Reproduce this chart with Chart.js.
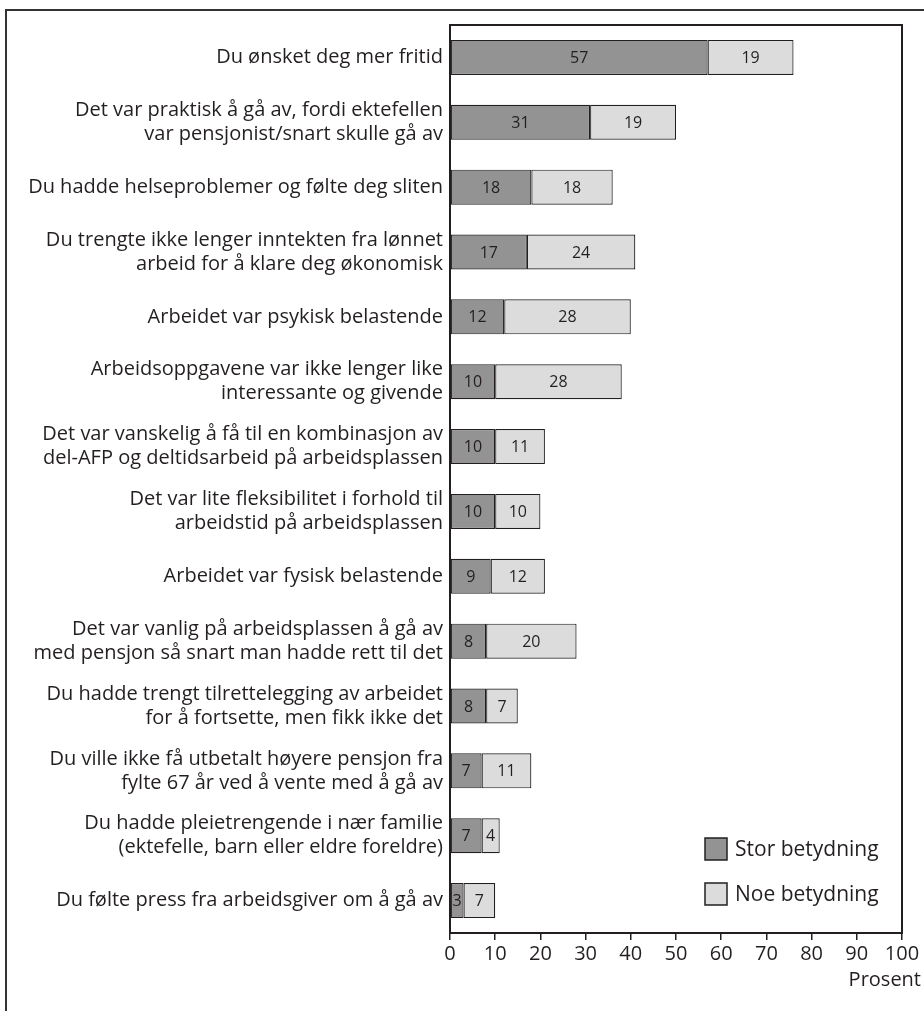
<!DOCTYPE html>
<html><head><meta charset="utf-8">
<script src="https://cdn.jsdelivr.net/npm/chart.js@4"></script>
<style>
html,body{margin:0;padding:0;background:#fff;overflow:hidden;}
#frame{position:absolute;left:5px;top:9px;width:1000px;height:1100px;border:2px solid #333;box-sizing:border-box;}
#wrap{position:absolute;left:0;top:0;width:924px;height:1011px;}
</style></head>
<body>
<div id="frame"></div>
<div id="wrap"><canvas id="c" width="924" height="1011"></canvas></div>
<script>
const categories = [
  ["Du ønsket deg mer fritid"],
  ["Det var praktisk å gå av, fordi ektefellen", "var pensjonist/snart skulle gå av"],
  ["Du hadde helseproblemer og følte deg sliten"],
  ["Du trengte ikke lenger inntekten fra lønnet", "arbeid for å klare deg økonomisk"],
  ["Arbeidet var psykisk belastende"],
  ["Arbeidsoppgavene var ikke lenger like", "interessante og givende"],
  ["Det var vanskelig å få til en kombinasjon av", "del-AFP og deltidsarbeid på arbeidsplassen"],
  ["Det var lite fleksibilitet i forhold til", "arbeidstid på arbeidsplassen"],
  ["Arbeidet var fysisk belastende"],
  ["Det var vanlig på arbeidsplassen å gå av", "med pensjon så snart man hadde rett til det"],
  ["Du hadde trengt tilrettelegging av arbeidet", "for å fortsette, men fikk ikke det"],
  ["Du ville ikke få utbetalt høyere pensjon fra", "fylte 67 år ved å vente med å gå av"],
  ["Du hadde pleietrengende i nær familie", "(ektefelle, barn eller eldre foreldre)"],
  ["Du følte press fra arbeidsgiver om å gå av"]
];
const storBetydning = [57, 31, 18, 17, 12, 10, 10, 10, 9, 8, 8, 7, 7, 3];
const noeBetydning  = [19, 19, 18, 24, 28, 28, 11, 10, 12, 20, 7, 11, 4, 7];
const seriesNames = ["Stor betydning", "Noe betydning"];
const xTicks = [0, 10, 20, 30, 40, 50, 60, 70, 80, 90, 100];
const axisTitle = "Prosent";

const INK = '#231f20';
const FONT = "'Open Sans', 'Noto Sans', sans-serif";

const overlay = {
  id: 'overlay',
  afterDatasetsDraw(chart) {
    const ctx = chart.ctx;
    const a = chart.chartArea;
    ctx.save();
    // value labels
    ctx.fillStyle = INK;
    ctx.font = "16px " + FONT;
    ctx.textAlign = 'center';
    ctx.textBaseline = 'middle';
    chart.data.datasets.forEach((ds, di) => {
      const meta = chart.getDatasetMeta(di);
      meta.data.forEach((bar, i) => {
        const v = ds.data[i];
        const p = bar.getProps(['x', 'base', 'y'], true);
        ctx.fillText(String(v), (p.x + p.base) / 2, p.y + 1);
      });
    });
    // plot frame
    ctx.strokeStyle = INK;
    ctx.lineWidth = 2;
    ctx.strokeRect(a.left, a.top, a.right - a.left, a.bottom - a.top);
    // legend
    const items = chart.data.datasets;
    const lx = 705, ly = [838, 883];
    ctx.font = "21px " + FONT;
    ctx.textAlign = 'left';
    items.forEach((ds, i) => {
      ctx.fillStyle = ds.backgroundColor;
      ctx.fillRect(lx, ly[i], 22, 22);
      ctx.lineWidth = 1.5;
      ctx.strokeStyle = INK;
      ctx.strokeRect(lx, ly[i], 22, 22);
      ctx.fillStyle = INK;
      ctx.fillText(ds.label, lx + 30, ly[i] + 12);
    });
    // axis title
    ctx.font = "20px " + FONT;
    ctx.textAlign = 'right';
    ctx.fillText(axisTitle, 921, 980);
    ctx.restore();
  }
};

new Chart(document.getElementById('c'), {
  type: 'bar',
  data: {
    labels: categories,
    datasets: [
      { label: seriesNames[0], data: storBetydning, backgroundColor: '#939393', borderColor: INK, borderWidth: 1.2, borderSkipped: false },
      { label: seriesNames[1], data: noeBetydning, backgroundColor: '#dcdcdd', borderColor: INK, borderWidth: 1.2, borderSkipped: false }
    ]
  },
  options: {
    indexAxis: 'y',
    responsive: false,
    animation: false,
    devicePixelRatio: 1,
    categoryPercentage: 0.54,
    barPercentage: 1,
    layout: { padding: { left: 0, right: 22, top: 25, bottom: 0 } },
    plugins: { legend: { display: false }, tooltip: { enabled: false } },
    scales: {
      x: {
        stacked: true,
        min: 0, max: 100,
        afterBuildTicks(s) { s.ticks = xTicks.map(v => ({ value: v })); },
        afterFit(s) { s.height = 78; },
        grid: { drawOnChartArea: false, drawTicks: true, tickLength: 7, color: INK, lineWidth: 1.5 },
        border: { display: true, color: INK, width: 2 },
        ticks: { color: INK, font: { size: 20, family: FONT }, padding: 2, maxRotation: 0, autoSkip: false }
      },
      y: {
        stacked: true,
        afterFit(s) { s.width = 450; },
        grid: { display: false, drawTicks: false },
        border: { display: true, color: INK, width: 2 },
        ticks: { color: INK, font: { size: 20, family: FONT, lineHeight: 1.2 }, padding: 7, autoSkip: false }
      }
    }
  },
  plugins: [overlay]
});
</script>
</body></html>
